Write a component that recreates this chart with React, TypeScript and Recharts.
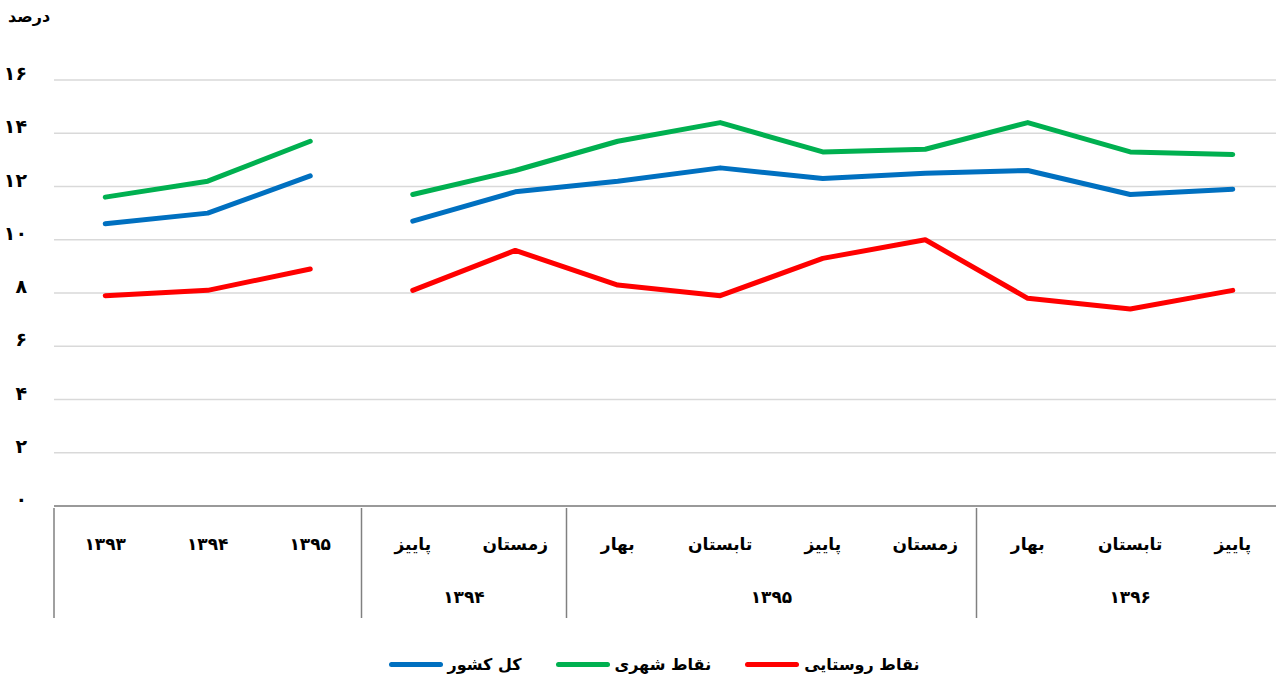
import { LineChart, Line, XAxis, YAxis, CartesianGrid } from 'recharts'

const categories = ['۱۳۹۳', '۱۳۹۴', '۱۳۹۵', 'پاییز', 'زمستان', 'بهار', 'تابستان', 'پاییز', 'زمستان', 'بهار', 'تابستان', 'پاییز']
const groupOf = [0, 0, 0, 1, 1, 2, 2, 2, 2, 3, 3, 3]
const groupLabels = ['', '۱۳۹۴', '۱۳۹۵', '۱۳۹۶']

const kolKeshvar = [10.6, 11.0, 12.4, 10.7, 11.8, 12.2, 12.7, 12.3, 12.5, 12.6, 11.7, 11.9]
const shahri = [11.6, 12.2, 13.7, 11.7, 12.6, 13.7, 14.4, 13.3, 13.4, 14.4, 13.3, 13.2]
const roostaei = [7.9, 8.1, 8.9, 8.1, 9.6, 8.3, 7.9, 9.3, 10.0, 7.8, 7.4, 8.1]

const yTicks = [0, 2, 4, 6, 8, 10, 12, 14, 16]

// the annual points and the quarterly points are drawn as separate pieces
const BREAK = 3

const SERIES = [
  { key: 'kol', name: 'کل کشور', color: '#0070C0', values: kolKeshvar },
  { key: 'shahri', name: 'نقاط شهری', color: '#00B050', values: shahri },
  { key: 'roostaei', name: 'نقاط روستایی', color: '#FF0000', values: roostaei },
]

const data = categories.map((label, i) => {
  const row: Record<string, any> = { label, i }
  SERIES.forEach((s) => {
    row[s.key + 'A'] = i < BREAK ? s.values[i] : null
    row[s.key + 'B'] = i >= BREAK ? s.values[i] : null
  })
  return row
})

const FONT = '"DejaVu Sans", sans-serif'
const CHART_W = 1284
const CHART_H = 684
const Y_W = 54
const BAND = (CHART_W - Y_W) / categories.length
const X_H = 110

const toFa = (n: number) => String(n).replace(/\d/g, (d) => '۰۱۲۳۴۵۶۷۸۹'[+d])

function YTick(props: any) {
  const { y, payload } = props
  return (
    <text x={27} y={y - 7} textAnchor="end" dominantBaseline="central"
      fontSize={19} fontWeight="bold" fill="#000" fontFamily={FONT}>
      {toFa(payload.value)}
    </text>
  )
}

function XTick(props: any) {
  const { x, y, index } = props
  const g = groupOf[index]
  const first = index === 0 || groupOf[index - 1] !== g
  const size = groupOf.filter((v) => v === g).length
  return (
    <g>
      <text x={x} y={y + 36} textAnchor="middle" dominantBaseline="central"
        fontSize={17} fontWeight="bold" fill="#000" fontFamily={FONT}>
        {categories[index]}
      </text>
      {first && (
        <line x1={x - BAND / 2} y1={y} x2={x - BAND / 2} y2={y + X_H} stroke="#808080" strokeWidth={1.5} />
      )}
      {first && groupLabels[g] && (
        <text x={x + ((size - 1) / 2) * BAND} y={y + 89} textAnchor="middle" dominantBaseline="central"
          fontSize={17} fontWeight="bold" fill="#000" fontFamily={FONT}>
          {groupLabels[g]}
        </text>
      )}
    </g>
  )
}

export default function App() {
  return (
    <div style={{ position: 'relative', width: 1276, height: 684, overflow: 'hidden', background: '#fff', fontFamily: FONT }}>
      <style>{'body{margin:0}'}</style>
      <LineChart width={CHART_W} height={CHART_H} data={data}
        margin={{ top: 80, right: 0, bottom: 178 - X_H, left: 0 }}>
        <CartesianGrid horizontal vertical={false} stroke="#d9d9d9" strokeWidth={1.5} />
        <XAxis dataKey="label" interval={0} tickLine={false} tickSize={0} height={X_H}
          padding={{ left: BAND / 2, right: BAND / 2 }}
          axisLine={{ stroke: '#808080', strokeWidth: 1.5 }} tick={<XTick />} />
        <YAxis domain={[0, 16]} ticks={yTicks} width={Y_W} axisLine={false} tickLine={false}
          tickSize={0} tick={<YTick />} />
        {SERIES.flatMap((s) => [
          <Line key={s.key + 'A'} dataKey={s.key + 'A'} stroke={s.color} strokeWidth={5} strokeLinecap="round"
            strokeLinejoin="round" dot={false} connectNulls={false} isAnimationActive={false} />,
          <Line key={s.key + 'B'} dataKey={s.key + 'B'} stroke={s.color} strokeWidth={5} strokeLinecap="round"
            strokeLinejoin="round" dot={false} connectNulls={false} isAnimationActive={false} />,
        ])}
      </LineChart>
      <div style={{ position: 'absolute', left: 8, top: 7, fontSize: 16, fontWeight: 'bold' }}>درصد</div>
      <div style={{ position: 'absolute', left: 20, width: 1268, top: 655, display: 'flex', justifyContent: 'center', gap: 34, direction: 'ltr' }}>
        {SERIES.map((s) => (
          <div key={s.key} style={{ display: 'flex', alignItems: 'center', gap: 5 }}>
            <span style={{ display: 'inline-block', width: 54, height: 5, borderRadius: 3, background: s.color }} />
            <span style={{ fontSize: 16, fontWeight: 'bold' }}>{s.name}</span>
          </div>
        ))}
      </div>
    </div>
  )
}
